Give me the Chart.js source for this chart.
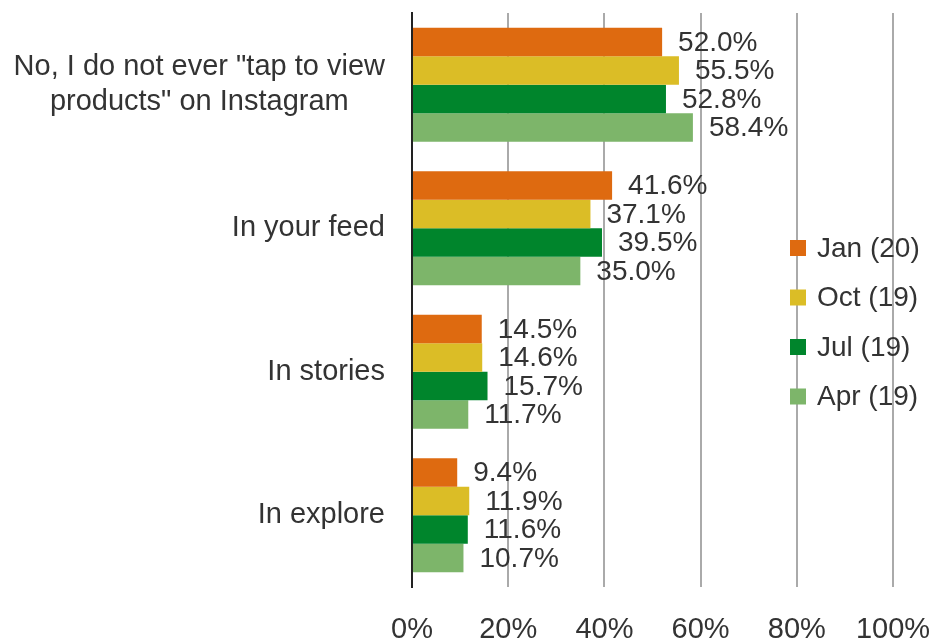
<!DOCTYPE html>
<html>
<head>
<meta charset="utf-8">
<script src="https://cdn.jsdelivr.net/npm/chart.js@4.4.1/dist/chart.umd.min.js"></script>
<style>
  html, body { margin: 0; padding: 0; background: #fff; }
</style>
</head>
<body>
<canvas id="myChart" width="935" height="638"></canvas>
<script>
// data
const categories = [
  ['No, I do not ever "tap to view', 'products" on Instagram'],
  'In your feed',
  'In stories',
  'In explore'
];
const seriesNames = ['Jan (20)', 'Oct (19)', 'Jul (19)', 'Apr (19)'];
const jan20 = [52.0, 41.6, 14.5, 9.4];
const oct19 = [55.5, 37.1, 14.6, 11.9];
const jul19 = [52.8, 39.5, 15.7, 11.6];
const apr19 = [58.4, 35.0, 11.7, 10.7];
const xTicks = [0, 20, 40, 60, 80, 100];

const colors = ['#de6a10', '#dbbd26', '#00852c', '#7db56a'];
const fontName = '"Liberation Sans", Arial, sans-serif';
const textColor = '#333333';

// category labels: block right aligned, lines centred inside it
const yLabelPlugin = {
  id: 'yLabels',
  afterDraw(chart) {
    const ctx = chart.ctx;
    const y = chart.scales.y;
    ctx.save();
    ctx.font = '29px ' + fontName;
    ctx.fillStyle = textColor;
    ctx.textAlign = 'center';
    ctx.textBaseline = 'middle';
    categories.forEach((lab, i) => {
      const lines = Array.isArray(lab) ? lab : [lab];
      const w = Math.max(...lines.map(l => ctx.measureText(l).width));
      const cx = chart.chartArea.left - 27 - w / 2;
      const cy = y.getPixelForValue(i);
      lines.forEach((l, j) => {
        ctx.fillText(l, cx, cy + (j - (lines.length - 1) / 2) * 35);
      });
    });
    ctx.restore();
  }
};

// value labels right of each bar
const valueLabelPlugin = {
  id: 'valueLabels',
  afterDatasetsDraw(chart) {
    const ctx = chart.ctx;
    ctx.save();
    ctx.font = '28px ' + fontName;
    ctx.fillStyle = textColor;
    ctx.textAlign = 'left';
    ctx.textBaseline = 'middle';
    chart.data.datasets.forEach((ds, di) => {
      chart.getDatasetMeta(di).data.forEach((bar, i) => {
        ctx.fillText(ds.data[i].toFixed(1) + '%', bar.x + 16, bar.y + 1);
      });
    });
    ctx.restore();
  }
};

// legend drawn inside the plot, over the grid
const legendPlugin = {
  id: 'sideLegend',
  afterDatasetsDraw(chart) {
    const ctx = chart.ctx;
    ctx.save();
    ctx.font = '28px ' + fontName;
    ctx.textAlign = 'left';
    ctx.textBaseline = 'middle';
    chart.data.datasets.forEach((ds, i) => {
      const cy = 248 + i * 49.5;
      ctx.fillStyle = ds.backgroundColor;
      ctx.fillRect(790, cy - 8, 16, 16);
      ctx.fillStyle = textColor;
      ctx.fillText(ds.label, 817, cy + 1);
    });
    ctx.restore();
  }
};

const seriesData = [jan20, oct19, jul19, apr19];

const ctx = document.getElementById('myChart');
new Chart(ctx, {
  type: 'bar',
  data: {
    labels: categories,
    datasets: seriesNames.map((name, i) => ({
      label: name,
      data: seriesData[i],
      backgroundColor: colors[i],
      borderWidth: 0,
      barPercentage: 1.0,
      categoryPercentage: 0.795
    }))
  },
  options: {
    indexAxis: 'y',
    responsive: false,
    animation: false,
    devicePixelRatio: 1,
    layout: { padding: { top: 13, right: 42, left: 0, bottom: 0 } },
    plugins: {
      legend: { display: false },
      tooltip: { enabled: false }
    },
    scales: {
      x: {
        min: 0,
        max: 100,
        afterBuildTicks: (scale) => {
          scale.ticks = xTicks.map(v => ({ value: v }));
        },
        afterFit: (scale) => {
          scale.height = 51;
          // tick labels may hang past the plot edge
          scale.paddingLeft = 0;
          scale.paddingRight = 0;
        },
        grid: {
          drawTicks: false,
          lineWidth: 2,
          color: (c) => (c.tick && c.tick.value === 0 ? 'rgba(0,0,0,0)' : '#aaaaaa')
        },
        border: { display: false },
        ticks: {
          padding: 26,
          color: textColor,
          font: { family: fontName, size: 29 },
          callback: (v) => v + '%'
        }
      },
      y: {
        afterFit: (scale) => { scale.width = 412; },
        grid: { display: false },
        border: { display: true, color: '#222222', width: 2 },
        ticks: { display: false }
      }
    }
  },
  plugins: [yLabelPlugin, valueLabelPlugin, legendPlugin]
});
</script>
</body>
</html>
